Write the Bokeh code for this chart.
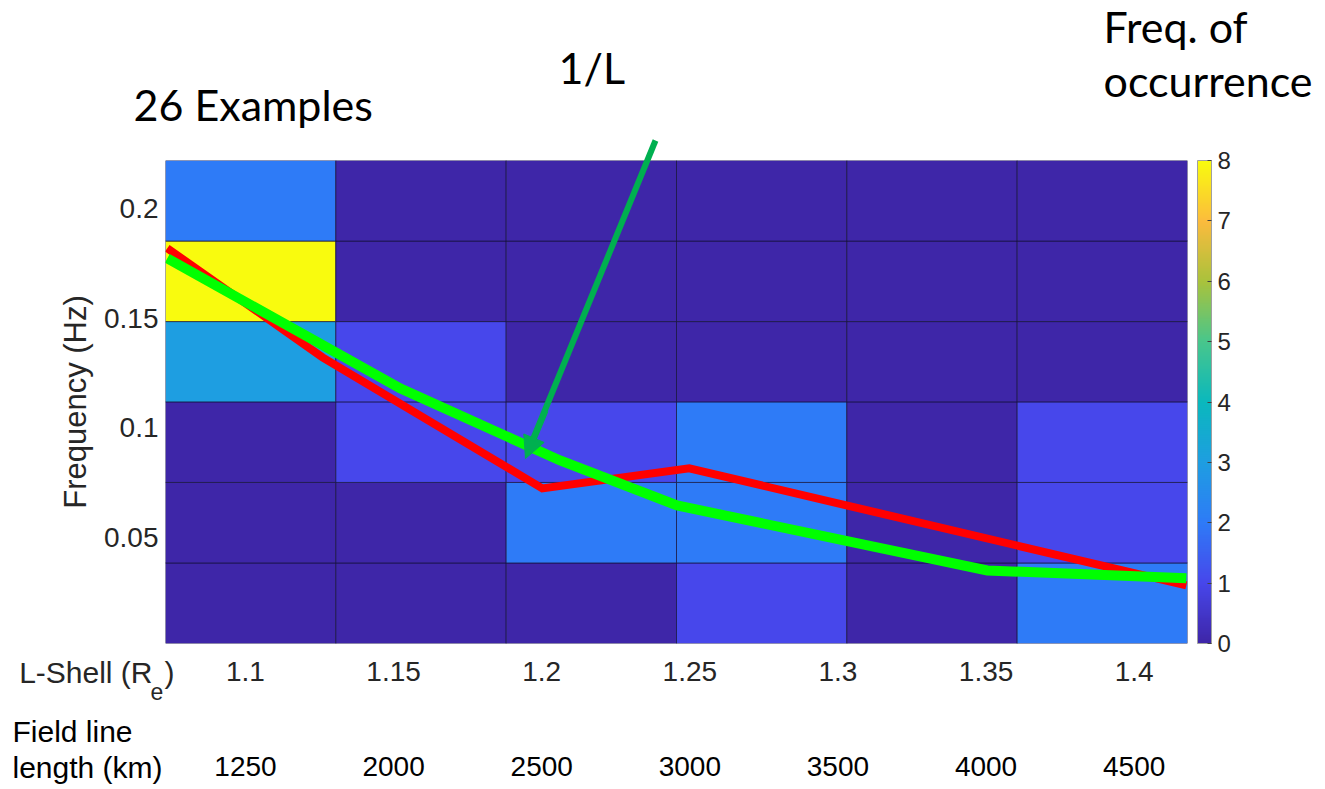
import numpy as np
from bokeh.plotting import figure
from bokeh.models import (Range1d, LinearColorMapper, ColorBar, FixedTicker, LinearAxis,
                          Arrow, NormalHead, ColumnDataSource)
from bokeh.core.properties import value
from bokeh.embed import file_html
from bokeh.resources import INLINE

# ---------------- data ----------------
l_shell_ticks = [1.1, 1.15, 1.2, 1.25, 1.3, 1.35, 1.4]
l_shell_labels = ["1.1", "1.15", "1.2", "1.25", "1.3", "1.35", "1.4"]
field_line_lengths = ["1250", "2000", "2500", "3000", "3500", "4000", "4500"]
freq_ticks = [0.05, 0.1, 0.15, 0.2]
freq_tick_labels = ["0.05", "0.1", "0.15", "0.2"]
cbar_ticks = [0, 1, 2, 3, 4, 5, 6, 7, 8]

l_bin_edges = [1.073, 1.1305, 1.188, 1.2455, 1.303, 1.3605, 1.418]
f_bin_edges = [0.0017, 0.0384, 0.0751, 0.1118, 0.1484, 0.1851, 0.2218]
# occurrence counts, row 0 = lowest frequency bin, columns = L-shell bins
counts = [
    [0, 0, 0, 1, 0, 2],
    [0, 0, 2, 2, 0, 1],
    [0, 1, 1, 2, 0, 1],
    [3, 1, 0, 0, 0, 0],
    [8, 0, 0, 0, 0, 0],
    [2, 0, 0, 0, 0, 0],
]
red_L = [1.0736, 1.1260, 1.2002, 1.2498, 1.4176]
red_f = [0.1818, 0.1321, 0.0724, 0.0815, 0.0282]
green_L = [1.0736, 1.1522, 1.2062, 1.2457, 1.3504, 1.4176]
green_f = [0.1772, 0.1180, 0.0851, 0.0646, 0.0350, 0.0314]

# ---------------- palette (parula-like) ----------------
anchors = ["#3e26a8", "#4747eb", "#2e7bf7", "#1e9ee1", "#0ab8bd", "#48c68c",
           "#a9c23c", "#fbbb3d", "#f9fb0e"]
def hex2rgb(h):
    return [int(h[i:i + 2], 16) for i in (1, 3, 5)]
arr = np.array([hex2rgb(a) for a in anchors], dtype=float)
pos = np.linspace(0, 1, len(anchors))
palette = []
for t in np.linspace(0, 1, 256):
    rgb = [np.interp(t, pos, arr[:, k]) for k in range(3)]
    palette.append("#%02x%02x%02x" % tuple(int(round(c)) for c in rgb))
mapper = LinearColorMapper(palette=palette, low=0, high=8)

# ---------------- geometry ----------------
FL, FR, FT, FB = 165, 1187, 160, 643  # frame in canvas pixels
X0, X1 = l_bin_edges[0], l_bin_edges[-1]
Y0, Y1 = f_bin_edges[0], f_bin_edges[-1]
def dx(px):
    return X0 + (px - FL) * (X1 - X0) / (FR - FL)
def dy(py):
    return Y1 - (py - FT) * (Y1 - Y0) / (FB - FT)

W, H = 1320, 787
p = figure(width=W, height=H, output_backend="svg", toolbar_location=None,
           x_range=Range1d(X0, X1), y_range=Range1d(Y0, Y1),
           min_border_left=FL, min_border_top=FT,
           min_border_right=W - FR, min_border_bottom=H - FB)
p.outline_line_color = None
p.grid.visible = False

# heatmap cells
left, right, bottom, top, val = [], [], [], [], []
for r, row in enumerate(counts):
    for c, v in enumerate(row):
        left.append(l_bin_edges[c]); right.append(l_bin_edges[c + 1])
        bottom.append(f_bin_edges[r]); top.append(f_bin_edges[r + 1])
        val.append(v)
src = ColumnDataSource(dict(left=left, right=right, bottom=bottom, top=top, v=val))
p.quad(left="left", right="right", bottom="bottom", top="top", source=src,
       fill_color={"field": "v", "transform": mapper},
       line_color="#15123a", line_alpha=0.7, line_width=1)

# curves
p.line(red_L, red_f, line_color="#ff0000", line_width=8, line_join="miter")
p.line(green_L, green_f, line_color="#00ff00", line_width=10, line_join="miter")

# axes
TICK_FONT = "Liberation Sans"
def style_axis(ax, size, standoff, color="#262626"):
    ax.major_label_text_font = TICK_FONT
    ax.major_label_text_font_size = size
    ax.major_label_text_color = color
    ax.major_label_standoff = standoff
    ax.major_tick_out = 0
    ax.major_tick_in = 0
    ax.minor_tick_out = 0
    ax.minor_tick_in = 0
    ax.axis_line_color = None

yax = p.yaxis[0]
yax.ticker = FixedTicker(ticks=freq_ticks)
yax.major_label_overrides = {t: s for t, s in zip(freq_ticks, freq_tick_labels)}
yax.axis_label = "Frequency (Hz)"
yax.axis_label_text_font = TICK_FONT
yax.axis_label_text_font_style = "normal"
yax.axis_label_text_font_size = "31px"
yax.axis_label_text_color = "#262626"
yax.axis_label_standoff = 8
style_axis(yax, "28px", 7)

xax = p.xaxis[0]
xax.ticker = FixedTicker(ticks=l_shell_ticks)
xax.major_label_overrides = {t: s for t, s in zip(l_shell_ticks, l_shell_labels)}
style_axis(xax, "28px", 18)

fax = LinearAxis(ticker=FixedTicker(ticks=l_shell_ticks),
                 major_label_overrides={t: s for t, s in zip(l_shell_ticks, field_line_lengths)})
style_axis(fax, "28px", 73, color="#000000")
p.add_layout(fax, "below")

# colour bar
cb = ColorBar(color_mapper=mapper, ticker=FixedTicker(ticks=cbar_ticks), width=14, height=FB - FT,
              padding=0, margin=14, location=(10, 0),
              major_label_text_font=TICK_FONT, major_label_text_font_size="24px",
              major_label_text_color="#262626", major_tick_line_color="#404040",
              major_tick_in=4, major_tick_out=0, minor_tick_line_color=None,
              bar_line_color="#a0a0a0", label_standoff=6, background_fill_color=None)
p.add_layout(cb, "right")

# arrow: shaft as an unclipped segment, head as an arrow annotation inside the frame
ARROW_GREEN = "#00b050"
p.segment(x0=[dx(655)], y0=[dy(140)], x1=[dx(532)], y1=[dy(440)],
          line_color=ARROW_GREEN, line_width=6, level="overlay")
p.add_layout(Arrow(x_start=dx(545), y_start=dy(410), x_end=dx(525), y_end=dy(458),
                   line_color=ARROW_GREEN, line_width=6,
                   end=NormalHead(size=22, fill_color=ARROW_GREEN, line_color=ARROW_GREEN)))

# text annotations (glyphs at overlay level so they are not clipped to the frame)
CAL = "Lato"
def txt(texts, pxs, pys, size, font, baseline="alphabetic", align="left", color="#000000"):
    p.text(x=[dx(v) for v in pxs], y=[dy(v) for v in pys], text=texts,
           text_font=value(font), text_font_size=value(size), text_color=color,
           text_baseline=baseline, text_align=align, level="overlay")

txt(["26 Examples", "1/L", "Freq. of", "occurrence"],
    [133, 558, 1103, 1103], [104, 67, 26, 80], "43px", CAL)
txt(["L-Shell (R"], [152], [672], "30px", TICK_FONT, baseline="middle", align="right", color="#262626")
txt(["e"], [150], [691], "23px", TICK_FONT, baseline="middle", color="#262626")
txt([")"], [164], [672], "30px", TICK_FONT, baseline="middle", color="#262626")
txt(["Field line", "length (km)"], [12, 12], [731, 767], "30px", TICK_FONT, baseline="middle")

open("out.html", "w").write(file_html(p, INLINE))
